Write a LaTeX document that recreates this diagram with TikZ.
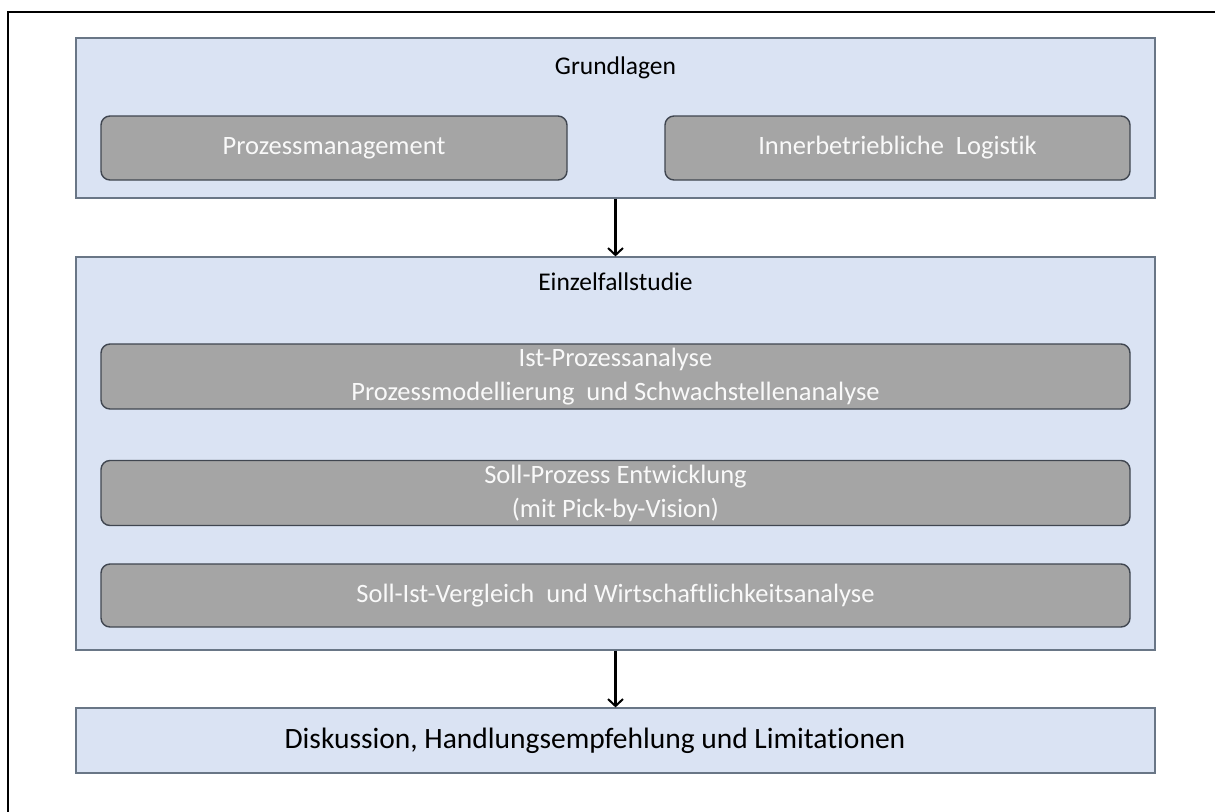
\documentclass[tikz,border=0pt]{standalone}
\usepackage{fontspec}
\setmainfont{Carlito}[Ligatures=NoCommon]
\usetikzlibrary{arrows.meta}

\definecolor{panelblue}{RGB}{218,227,243}
\definecolor{panelline}{RGB}{105,118,134}
\definecolor{stepgray}{RGB}{165,165,165}
\definecolor{stepline}{RGB}{64,70,80}

\begin{document}
\begin{tikzpicture}[x=1pt,y=-1pt,
	panel/.style={draw=panelline, fill=panelblue, line width=1.2pt, inner sep=0pt},
	title/.style={font=\fontsize{25.5}{30}\selectfont},
	stepbox/.style={draw=stepline, fill=stepgray, line width=1.4pt, rounded corners=9pt,
		text=white!95!gray, align=center, font=\fontsize{26.5}{34}\selectfont},
	flow/.style={-{Straight Barb[length=7pt,width=15pt,line width=2pt]}, line width=2.2pt}]
	\useasboundingbox (0,0) rectangle (1215,811);
	\draw[line width=2.6pt] (8,12) rectangle (1240,840);
	% panels
	\node[panel, minimum width=1079pt, minimum height=160pt] (G) at (615.5,118) {};
	\node[panel, minimum width=1079pt, minimum height=393pt] (E) at (615.5,453.5) {};
	\node[panel, minimum width=1079pt, minimum height=65pt] (D) at (615.5,740.5) {};
	\node[title] (Gt) at (615.5,68) {Grundlagen};
	\node[title] (Et) at (615.5,282) {Einzelfallstudie};
	\node[font=\fontsize{29.5}{34}\selectfont] (Dt) at (595,740.5)
		{Diskussion, Handlungsempfehlung und Limitationen};
	% steps
	\node[stepbox, minimum width=466pt, minimum height=64pt] (PM) at (334,148) {Prozessmanagement};
	\node[stepbox, minimum width=465pt, minimum height=64pt] (IL) at (897.5,148) {Innerbetriebliche\ \ Logistik};
	\node[stepbox, minimum width=1029pt, minimum height=65pt] (IP) at (615.5,376.5)
		{Ist-Prozessanalyse\\Prozessmodellierung\ \ und Schwachstellenanalyse};
	\node[stepbox, minimum width=1029pt, minimum height=65pt] (SP) at (615.5,493)
		{Soll-Prozess Entwicklung\\(mit Pick-by-Vision)};
	\node[stepbox, minimum width=1029pt, minimum height=63pt] (SI) at (615.5,595.5)
		{Soll-Ist-Vergleich\ \ und Wirtschaftlichkeitsanalyse};
	% arrows
	\draw[flow] (G.south) to (E.north);
	\draw[flow] (E.south) to (D.north);
\end{tikzpicture}
\end{document}
